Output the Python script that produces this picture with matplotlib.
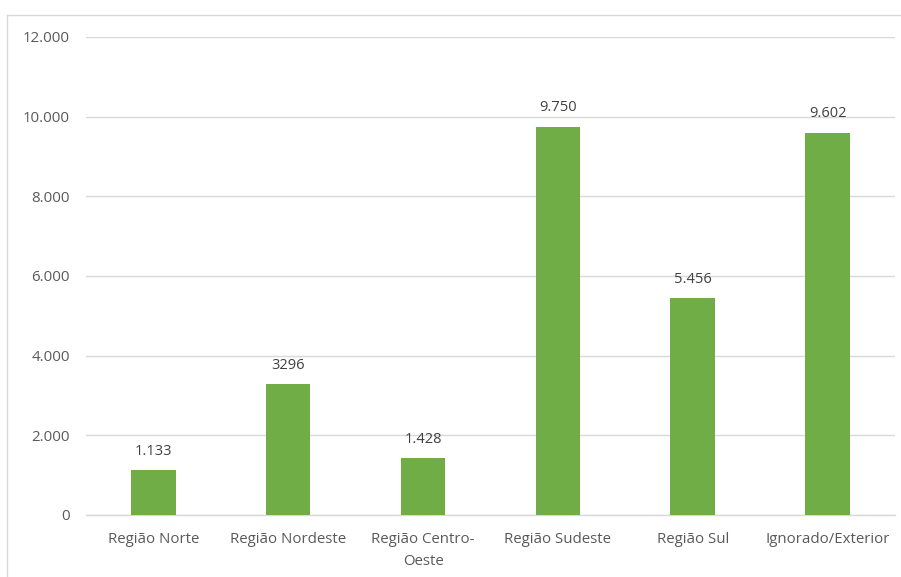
import matplotlib.pyplot as plt
from matplotlib.lines import Line2D

# Data
categories = ["Região Norte", "Região Nordeste", "Região Centro-\nOeste",
              "Região Sudeste", "Região Sul", "Ignorado/Exterior"]
values = [1133, 3296, 1428, 9750, 5456, 9602]
value_labels = ["1.133", "3296", "1.428", "9.750", "5.456", "9.602"]
y_ticks = [0, 2000, 4000, 6000, 8000, 10000, 12000]
y_tick_labels = ["0", "2.000", "4.000", "6.000", "8.000", "10.000", "12.000"]

TEXT_COLOR = "#595959"
GRID_COLOR = "#d9d9d9"
BAR_COLOR = "#70ad47"

plt.rcParams['font.family'] = ['Open Sans', 'DejaVu Sans']

fig = plt.figure(figsize=(9.01, 5.77), dpi=100)
ax = fig.add_axes([0.0954, 0.1075, 0.8979, 0.8284])

x = range(len(categories))
ax.bar(x, values, width=0.33, color=BAR_COLOR, zorder=3)
for xi, v, lab in zip(x, values, value_labels):
    ax.annotate(lab, (xi, v), xytext=(0, 8), textcoords="offset points",
                ha="center", va="bottom", fontsize=10.5, color="#404040")

ax.set_xlim(-0.5, len(categories) - 0.5)
ax.set_ylim(0, 12000)
ax.set_yticks(y_ticks)
ax.set_yticklabels(y_tick_labels)
ax.set_xticks(list(x))
ax.set_xticklabels(categories, linespacing=1.65)
ax.tick_params(axis="both", length=0, labelsize=10.8, labelcolor=TEXT_COLOR)
ax.tick_params(axis="y", pad=11.5)
ax.tick_params(axis="x", pad=12)
ax.grid(axis="y", color=GRID_COLOR, linewidth=1, zorder=0)
for s in ["top", "right", "left"]:
    ax.spines[s].set_visible(False)
ax.spines["bottom"].set_color(GRID_COLOR)
ax.spines["bottom"].set_linewidth(1)

# chart area border (extends past the right and bottom of the image)
fig.add_artist(Line2D([7 / 901, 1], [1 - 15 / 577] * 2, color=GRID_COLOR, lw=1))
fig.add_artist(Line2D([7 / 901] * 2, [0, 1 - 15 / 577], color=GRID_COLOR, lw=1))

fig.savefig("out.png", dpi=100)
